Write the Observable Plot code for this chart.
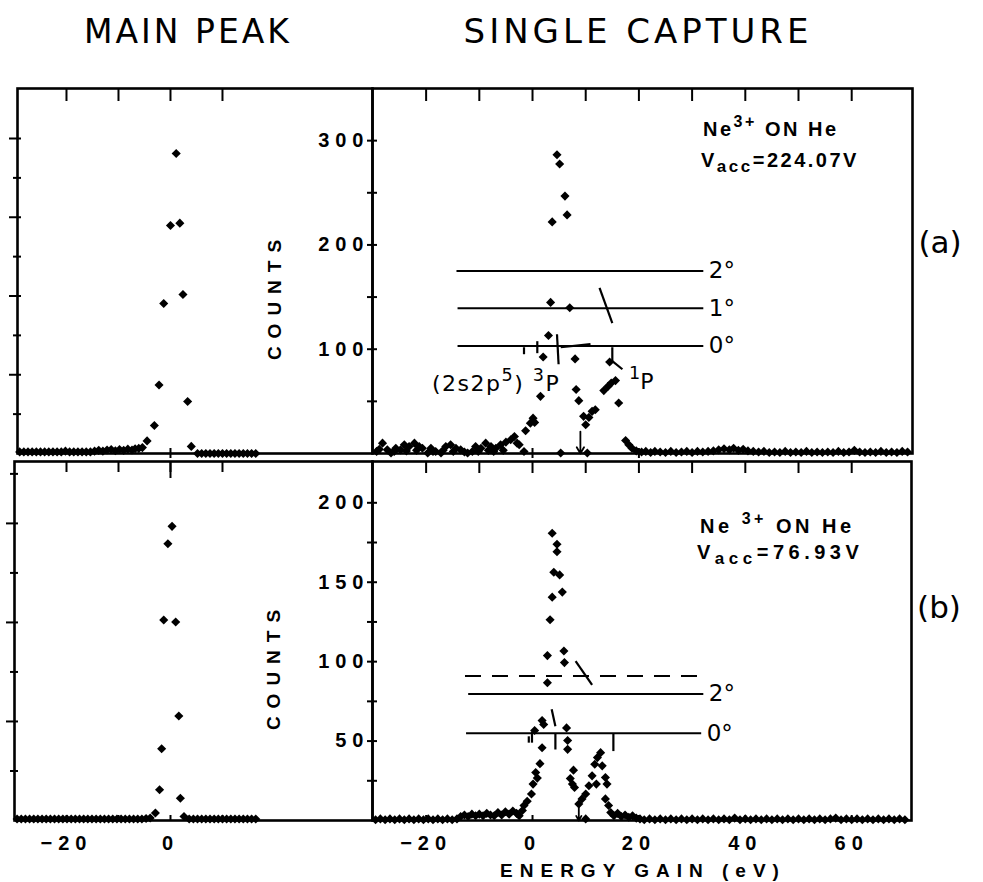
<!DOCTYPE html>
<html><head><meta charset="utf-8">
<script src="https://cdn.jsdelivr.net/npm/d3@7"></script>
<script src="https://cdn.jsdelivr.net/npm/@observablehq/plot@0.6"></script>
<style>
html,body{margin:0;padding:0;background:#fff;overflow:hidden;}
#page{position:relative;width:983px;height:882px;overflow:hidden;background:#fff;color:#000;font-family:"DejaVu Sans",sans-serif;}
.layer{position:absolute;left:0;top:0;width:983px;height:882px;}
.layer svg{background:transparent;overflow:visible;}
.t{position:absolute;white-space:nowrap;line-height:1;}
.c{transform:translate(-50%,-50%);}
g[aria-label="y-axis tick label"], g[aria-label="x-axis tick label"]{font-size:20px;font-weight:bold;font-family:"Liberation Sans",sans-serif;}
g[aria-label="y-axis tick label"] text{letter-spacing:6px;}
g[aria-label="x-axis tick label"] text{letter-spacing:6px;}
sup{font-size:0.8em;vertical-align:0.55em;line-height:0;}
sub{font-size:0.85em;vertical-align:-0.3em;line-height:0;}
</style></head>
<body><div id="page">
<div class="t c" style="left:188px;top:31px;font-size:33px;letter-spacing:3px;">MAIN PEAK</div>
<div class="t c" style="left:638px;top:31px;font-size:34px;letter-spacing:4px;">SINGLE CAPTURE</div>
<div class="t c" style="left:940px;top:242px;font-size:31px;">(a)</div>
<div class="t c" style="left:939px;top:607px;font-size:31px;">(b)</div>
<div class="t c" style="left:274px;top:296px;font-size:19px;font-weight:bold;letter-spacing:8px;font-family:'Liberation Sans';transform:translate(-50%,-50%) rotate(-90deg);">COUNTS</div>
<div class="t c" style="left:273px;top:666px;font-size:19px;font-weight:bold;letter-spacing:8px;font-family:'Liberation Sans';transform:translate(-50%,-50%) rotate(-90deg);">COUNTS</div>
<div class="t c" style="left:643px;top:870px;font-size:19px;font-weight:bold;letter-spacing:7px;font-family:'Liberation Sans';">ENERGY GAIN (eV)</div>
<div class="t" style="left:703px;top:119px;font-size:20px;font-weight:bold;letter-spacing:2.5px;font-family:'Liberation Sans';">Ne<sup>3+</sup> ON He</div>
<div class="t" style="left:701px;top:150px;font-size:20px;font-weight:bold;letter-spacing:2.5px;font-family:'Liberation Sans';">V<sub>acc</sub>=224.07V</div>
<div class="t" style="left:700px;top:516px;font-size:20px;font-weight:bold;letter-spacing:3.5px;font-family:'Liberation Sans';">Ne <sup>3+</sup> ON He</div>
<div class="t" style="left:697px;top:542px;font-size:20px;font-weight:bold;letter-spacing:4.5px;font-family:'Liberation Sans';">V<sub>acc</sub>=76.93V</div>
<div class="t" style="left:432px;top:373px;font-size:22px;letter-spacing:1.5px;">(2s2p<sup>5</sup>) <sup>3</sup>P</div>
<div class="t" style="left:629px;top:371px;font-size:22px;"><sup>1</sup>P</div>
<div id="ul" class="layer"></div>
<div id="ur" class="layer"></div>
<div id="ll" class="layer"></div>
<div id="lr" class="layer"></div>
</div>
<script>
// ---------------- DATA ----------------
// tick labels
const urCountLabels = [100, 200, 300];
const lrCountLabels = [50, 100, 150, 200];
const rightEnergyLabels = [-20, 0, 20, 40, 60];
const leftEnergyLabels = [-20, 0];
const rightEnergyTicks = [-20, -10, 0, 10, 20, 30, 40, 50, 60];
const leftEnergyTicks = [-20, -10, 0, 10];
const urCountTicks = [50, 100, 150, 200, 250, 300];
const lrCountTicks = [25, 50, 75, 100, 125, 150, 175, 200];
const ulMinorTicks = [1, 3, 5, 7];
const ulMajorTicks = [2, 4, 6, 8];
const llMinorTicks = [1, 3, 5, 7];
const llMajorTicks = [2, 4, 6];

// (a) main peak [energy eV, counts arb.]
const ulPeak = [[1.1,7.62],[0,5.79],[1.8,5.85],[-1.3,3.81],[2.4,4.04],[-2.2,1.74],[3.3,1.32],[-3.1,0.71],[-4.5,0.32],[4.0,0.18],[-5.4,0.15],[-6.1,0.13]];
const ulBase = [[-29,0.04],[-28.2,0.04],[-27.4,0.04],[-26.6,0.04],[-25.8,0.04],[-25,0.04],[-24.2,0.04],[-23.4,0.04],[-22.6,0.04],[-21.8,0.04],[-21,0.04],[-20.2,0.06],[-19.4,0.04],[-18.6,0.04],[-17.8,0.04],[-17,0.04],[-16.2,0.04],[-15.4,0.04],[-14.6,0.06],[-13.8,0.08],[-13,0.06],[-12.2,0.09],[-11.4,0.1],[-10.6,0.07],[-9.8,0.1],[-9,0.08],[-8.2,0.11],[-7.4,0.09],[-6.8,0.12],
  [5.2,0],[6,0],[6.8,0],[7.6,0],[8.4,0],[9.2,0],[10,0],[10.8,0],[11.6,0],[12.4,0],[13.2,0],[14,0],[14.8,0],[15.6,0],[16.4,0]];

// (b) main peak
const llPeak = [[0.3,5.94],[-0.5,5.59],[-1.3,4.05],[1.0,4.01],[1.6,2.11],[-1.7,1.45],[-2.1,0.62],[1.9,0.45],[-2.9,0.15],[2.6,0.08]];
const llBase = [[-29.5,0.03],[-28.7,0.03],[-27.9,0.03],[-27.1,0.03],[-26.3,0.03],[-25.5,0.03],[-24.7,0.03],[-23.9,0.03],[-23.1,0.03],[-22.3,0.03],[-21.5,0.03],[-20.7,0.03],[-19.9,0.03],[-19.1,0.03],[-18.3,0.03],[-17.5,0.03],[-16.7,0.03],[-15.9,0.03],[-15.1,0.03],[-14.3,0.03],[-13.5,0.03],[-12.7,0.03],[-11.9,0.03],[-11.1,0.03],[-10.3,0.03],[-9.5,0.03],[-8.7,0.03],[-7.9,0.03],[-7.1,0.03],[-6.3,0.03],[-5.5,0.03],[-4.7,0.04],[-3.9,0.05],
  [3.6,0.03],[4.4,0.03],[5.2,0.03],[6,0.03],[6.8,0.03],[7.6,0.03],[8.4,0.03],[9.2,0.03],[10,0.03],[10.8,0.03],[11.6,0.03],[12.4,0.03],[13.2,0.03],[14,0.03],[14.8,0.03],[15.6,0.03],[16.4,0.03]];

// (a) single capture [energy eV, counts]
const urPeak = [[-1.3,21.8],[-0.4,29.1],[0.4,29.8],[0.1,33.9],[1.5,54.8],[2.0,92.6],[3.0,113.2],[3.4,144.9],[3.7,222.1],[4.6,286.5],[5.1,277.6],[6.1,246.8],[6.5,228.8],[7.0,139.7],[8.0,90.7],[8.2,61.3],[8.7,50.7],[9.6,35.6],[10.0,27.6],[10.6,34.6],[11.2,40.4],[11.8,42.0],[13.4,60.3],[14.2,64.4],[14.8,67.6],[15.6,69.9],[14.5,87.8],[16.2,48.4],[17.5,12.5],[18.1,8.4],[18.7,5.1],[10.3,0.5],[5.3,0.5]];
const urNoiseLeft = [[-29.3,2],[-28.2,9.9],[-27.3,3.5],[-26.6,0.5],[-25.7,5],[-24.8,3.5],[-24.1,8.4],[-23.2,6.7],[-22.2,9.9],[-21.3,6.7],[-20.7,5],[-19.7,0.5],[-19.1,5],[-18.2,1.9],[-17.2,0.5],[-16.3,6.7],[-15.4,8.4],[-14.4,5],[-13.5,3.5],[-12.2,0.5],[-11.3,1.9],[-10.7,6.7],[-9.7,5],[-8.8,9.9],[-7.8,6.7],[-6.9,5],[-6.0,8.4],[-5.0,10.9],[-4.1,13.2],[-3.4,16.3],[-2.9,9.9],[-2.5,8.4],[-1.6,1.9],
  [-28.8,4],[-26.0,2],[-23.7,2.5],[-21.8,3],[-18.7,2],[-16.8,3],[-14.9,2],[-12.8,1.5],[-10.2,2],[-8.3,3],[-7.3,2],[-5.5,3]];
const urNoiseRight = [[19.5,2.5],[20.5,1.5],[21.3,2],[22.2,1],[23,2],[24,1.5],[25,1],[26,2],[27,1],[28,1.5],[29,2],[30,1],[31,2],[32,1.5],[33,2],[34,2.5],[35,3.5],[36,4.5],[37,3.5],[37.8,5],[38.7,3],[39.6,4],[40.5,2.5],[41.5,2],[42.5,1.5],[43.5,2],[44.5,1],[45.5,1.5],[46.5,1],[47.5,2],[48.5,1],[49.5,1.5],[50.5,1],[51.5,2],[52.5,1],[53.5,1.5],[54.5,1],[55.5,1.5],[56.5,1],[57.5,2],[58.5,1],[59.5,1.5],[60.5,3],[61.5,1.5],[62.5,1],[63.5,1.5],[64.5,1],[65.5,2],[66.5,1],[67.5,1.5],[68.5,1],[69.5,2],[70.5,1.5]];

// (b) single capture
const lrPeak = [[3.7,180.8],[4.6,173.9],[4.6,169.2],[4.0,156.3],[5.1,154.6],[3.7,140.6],[5.6,143.8],[3.3,126.4],[2.8,103.8],[5.9,106.7],[6.0,99.4],[2.8,86.7],[1.8,62.9],[2.1,60.4],[0.4,56.7],[6.4,58.3],[6.6,50.4],[6.6,44.8],[1.8,45.8],[1.4,35.8],[0.6,30.2],[0.9,26.7],[0.1,22.9],[-0.2,16.7],[-1.0,12.1],[-1.6,9.4],[-1.9,6.3],
  [7.7,31.7],[7.1,26.4],[7.5,22.9],[7.9,20.8],[12.8,42.7],[12.2,39.6],[11.7,35.4],[13.1,34.4],[11.2,28.1],[12.0,22.9],[13.7,27.1],[14.0,22.9],[10.6,21.9],[10.0,16.7],[9.3,13.6],[8.7,10.4],[13.7,13.6],[14.3,9.4],[10.0,1]];
const lrNoiseLeft = [[-29.5,0.5],[-28.6,1],[-27.7,0.5],[-26.8,1],[-25.9,0.5],[-25,1],[-24.1,0.5],[-23.2,1],[-22.3,0.5],[-21.4,1],[-20.5,0.5],[-19.6,1],[-18.7,0.5],[-17.8,1],[-16.9,0.5],[-16,1],[-15.1,0.5],[-14.2,1],
  [-13.5,2.5],[-12.8,3.5],[-12.1,2.5],[-11.4,4],[-10.7,3],[-10,4],[-9.3,3],[-8.6,4.5],[-7.9,3.5],[-7.2,3],[-6.5,5],[-5.8,3.5],[-5.1,5.5],[-4.4,4],[-3.7,6],[-3,4.5],[-2.5,3]];
const lrNoiseRight = [[14.7,5],[15.3,3],[16,4.5],[16.7,2.5],[17.4,3.5],[18.1,2],[18.8,3],[19.5,1.5],[20.2,1],[21,0.5],[22,1],[23,0.5],[24,1],[25,0.5],[26,1],[27,0.5],[28,1],[29,0.5],[30,1],[31,0.5],[32,1],[33,0.5],[34,1],[35,0.5],[36,1],[37,0.5],[38,1.5],[39,0.5],[40,1],[41,0.5],[42,1],[43,0.5],[44,1],[45,0.5],[46,1],[47,0.5],[48,1],[49,0.5],[50,1],[51,0.5],[52,1],[53,0.5],[54,1],[55,0.5],[56,1],[57,1.5],[58,0.5],[59,1],[60,0.5],[61,1],[62,0.5],[63,1],[64,0.5],[65,1],[66,0.5],[67,1],[68,0.5],[69,1],[70,0.5]];

// angle reference lines
const urAngleLabels = ["2°", "1°", "0°"];
const urAngleCounts = [175, 139.4, 103];
const urAngleFrom = [-14.2, -14.0, -14.0];
const urAngleTo = [32.2, 32.2, 32.2];
const lrAngleLabels = ["", "2°", "0°"];
const lrAngleCounts = [90.9, 79.6, 55.0];
const lrAngleFrom = [-12.6, -12.0, -12.4];
const lrAngleTo = [32.2, 32.2, 31.8];
const lrAngleDashed = [true, false, false];

// level markers drawn on the lines [x1, y1, x2, y2] in eV / counts
const urMarkers = [[-1.6,101.9,-1.6,95.2],[0.9,107.7,0.9,96.2],[4.6,114.4,4.9,85.6],[5.3,101.9,10.9,104.8],[15.0,101.9,15.0,88.5],[15.0,88.5,16.9,80.8],[12.6,158.7,15.0,125]];
const lrMarkers = [[8.1,100.4,11.2,85.4],[3.6,70,4.3,59.4],[-0.7,53,-0.7,49],[-0.1,56,-0.1,49],[4.3,55,4.3,44.7],[15.2,55,15.2,43.7]];
// arrows [eV, from counts, to counts]
const urArrows = [[9.0, 21, 0]];
const lrArrows = [[8.7, 10, 0]];

// ---------------- DRAWING ----------------
const W = 983, H = 882;
const font = "Liberation Sans";
function frameOf(id){
  return {
    ul:{l:17,r:372,t:88,b:453},
    ur:{l:372,r:912,t:88,b:453},
    ll:{l:14,r:372,t:461,b:820},
    lr:{l:372,r:911,t:461,b:820}
  }[id];
}
function make(id, xDomain, yDomain, marks){
  const f = frameOf(id);
  const svg = Plot.plot({
    width: W, height: H,
    marginLeft: f.l, marginRight: W - f.r, marginTop: f.t, marginBottom: H - f.b,
    x: {domain: xDomain, axis: null, label: null},
    y: {domain: yDomain, axis: null, label: null},
    style: {background: "transparent", overflow: "visible", fontFamily: "DejaVu Sans"},
    marks: [Plot.frame({strokeWidth: 2.6}), ...marks(f.r - f.l, f.b - f.t)]
  });
  document.getElementById(id).appendChild(svg);
}
const toPts = a => a.map(([x, y]) => ({x, y}));
const dots = a => Plot.dot(toPts(a), {x: "x", y: "y", symbol: "diamond2", r: 4.1, fill: "black", stroke: null});
const topTicks = (vals, len, h) => Plot.tickX(vals, {x: d => d, insetBottom: h - len, strokeWidth: 2});
const botTicks = (vals, len, h) => Plot.tickX(vals, {x: d => d, insetTop: h - len, strokeWidth: 2});
const crossTicksY = (vals, out, inn, w) => Plot.tickY(vals, {y: d => d, insetLeft: -out, insetRight: w - inn, strokeWidth: 2});
const angleRows = (labels, counts, from, to, dashed) => labels.map((label, i) => ({label, y: counts[i], x1: from[i], x2: to[i], dashed: dashed ? dashed[i] : false}));
const linkRows = a => a.map(([x1, y1, x2, y2]) => ({x1, y1, x2, y2}));
const arrowRows = a => a.map(([x, y1, y2]) => ({x, y1, y2}));
const tickLabelStyle = {tickSize: 0, fontSize: 20, fontWeight: "bold", fontFamily: font};

// upper-left: main peak (a)
make("ul", [-29.42, 38.85], [0, 9.27], (w, h) => [
  topTicks(leftEnergyTicks, 13, h),
  Plot.tickX([0], {x: d => d, insetTop: h - 5, insetBottom: -5, strokeWidth: 2}),
  crossTicksY(ulMinorTicks, 4, 4, w),
  crossTicksY(ulMajorTicks, 8, 4, w),
  dots(ulBase), dots(ulPeak)
]);

// lower-left: main peak (b)
make("ll", [-30, 38.85], [0, 7.25], (w, h) => [
  topTicks(leftEnergyTicks, 11, h),
  topTicks([0], 17, h),
  botTicks(leftEnergyTicks, 5, h),
  crossTicksY(llMinorTicks, 4, 4, w),
  crossTicksY(llMajorTicks, 8, 4, w),
  Plot.axisX({anchor: "bottom", ticks: leftEnergyLabels, tickPadding: 15, ...tickLabelStyle}),
  dots(llBase), dots(llPeak)
]);

// upper-right: single capture (a)
const urRows = angleRows(urAngleLabels, urAngleCounts, urAngleFrom, urAngleTo);
make("ur", [-30.08, 71.43], [0, 350], (w, h) => [
  topTicks(rightEnergyTicks, 13, h),
  Plot.tickX([0, 20], {x: d => d, insetTop: h - 5, insetBottom: -5, strokeWidth: 2}),
  crossTicksY(urCountTicks, 5, 5, w),
  Plot.axisY({anchor: "left", ticks: urCountLabels, tickPadding: 3, ...tickLabelStyle}),
  Plot.ruleY(urRows, {y: "y", x1: "x1", x2: "x2", strokeWidth: 2}),
  Plot.text(urRows, {x: "x2", y: "y", text: "label", textAnchor: "start", dx: 5, fontSize: 23}),
  Plot.link(linkRows(urMarkers), {x1: "x1", y1: "y1", x2: "x2", y2: "y2", strokeWidth: 2.2}),
  Plot.arrow(arrowRows(urArrows), {x1: "x", x2: "x", y1: "y1", y2: "y2", strokeWidth: 1.8, headLength: 7}),
  dots(urNoiseLeft), dots(urNoiseRight), dots(urPeak)
]);

// lower-right: single capture (b)
const lrRows = angleRows(lrAngleLabels, lrAngleCounts, lrAngleFrom, lrAngleTo, lrAngleDashed);
make("lr", [-30.08, 71.24], [0, 226], (w, h) => [
  topTicks(rightEnergyTicks, 12, h),
  botTicks(rightEnergyLabels, 5, h),
  crossTicksY(lrCountTicks, 5, 5, w),
  Plot.axisY({anchor: "left", ticks: lrCountLabels, tickPadding: 3, ...tickLabelStyle}),
  Plot.axisX({anchor: "bottom", ticks: rightEnergyLabels, tickPadding: 15, ...tickLabelStyle}),
  Plot.ruleY(lrRows.filter(d => !d.dashed), {y: "y", x1: "x1", x2: "x2", strokeWidth: 2}),
  Plot.ruleY(lrRows.filter(d => d.dashed), {y: "y", x1: "x1", x2: "x2", strokeWidth: 2, strokeDasharray: "16,11"}),
  Plot.text(lrRows, {x: "x2", y: "y", text: "label", textAnchor: "start", dx: 5, fontSize: 23}),
  Plot.link(linkRows(lrMarkers), {x1: "x1", y1: "y1", x2: "x2", y2: "y2", strokeWidth: 2.2}),
  Plot.arrow(arrowRows(lrArrows), {x1: "x", x2: "x", y1: "y1", y2: "y2", strokeWidth: 1.8, headLength: 7}),
  dots(lrNoiseLeft), dots(lrNoiseRight), dots(lrPeak)
]);
</script>
</body></html>
